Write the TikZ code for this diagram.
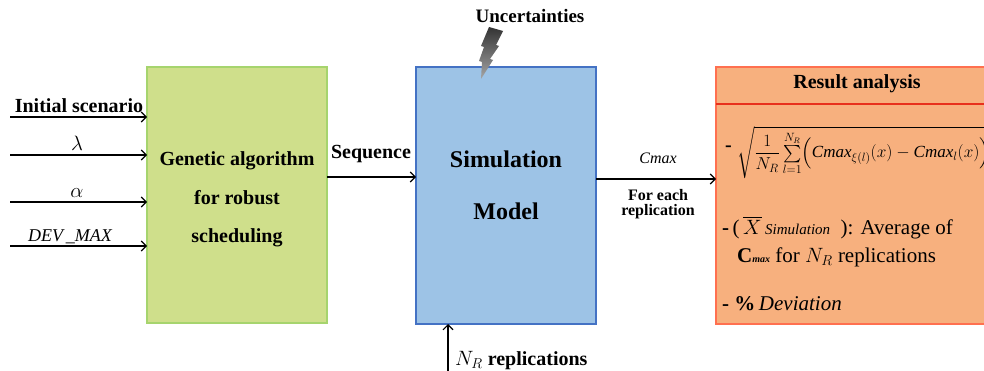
\documentclass[tikz,border=0pt]{standalone}
\usepackage{amsmath}
\usepackage{fontspec}
\setmainfont{Liberation Serif}
\usetikzlibrary{arrows.meta,calc}
\definecolor{gafill}{RGB}{207,223,139}
\definecolor{gaedge}{RGB}{166,212,110}
\definecolor{simfill}{RGB}{157,195,230}
\definecolor{simedge}{RGB}{68,114,196}
\definecolor{resfill}{RGB}{247,176,126}
\definecolor{resedge}{RGB}{255,112,80}
\definecolor{resline}{RGB}{232,48,28}
\begin{document}
\begin{tikzpicture}[x=1pt,y=-1pt,
  conn/.style={draw=black,line width=1.1pt,-{Straight Barb[length=5pt,width=10pt,line width=1.1pt]}},
  blockbox/.style={minimum width=#1,inner sep=0pt,outer sep=0pt},
  bigtxt/.style={font=\fontsize{20}{24}\selectfont\bfseries,inner sep=0pt,anchor=base},
  midtxt/.style={font=\fontsize{16}{18}\selectfont\bfseries,inner sep=0pt,anchor=base},
  restxt/.style={font=\fontsize{21}{24}\selectfont,inner sep=0pt,anchor=base west},
]
\clip (0,0) rectangle (984,371);
\fill[white] (0,0) rectangle (984,371);

% blocks
\node[blockbox=180pt,minimum height=256pt,draw=gaedge,fill=gafill,line width=1.5pt] (ga) at (237,195) {};
\node[blockbox=180pt,minimum height=257pt,draw=simedge,fill=simfill,line width=2.5pt] (sim) at (506,195.5) {};
\node[blockbox=282pt,minimum height=257pt,draw=resedge,fill=resfill,line width=2pt] (res) at (857,195.5) {};
\coordinate (hl) at (716,104);
\draw[resline,line width=2pt] (hl) -- (hl -| res.east);

% block texts
\node[bigtxt] (ga1) at (237,166) {Genetic algorithm};
\node[bigtxt] (ga2) at (237,205) {for robust};
\node[bigtxt] (ga3) at (237,243) {scheduling};
\node[bigtxt,font=\fontsize{24}{28}\selectfont\bfseries] (sim1) at (506,168) {Simulation};
\node[bigtxt,font=\fontsize{24}{28}\selectfont\bfseries] (sim2) at (506,220) {Model};
\node[bigtxt] (rh) at (857,89) {Result analysis};

% inputs
\coordinate (in1) at (10,117);
\coordinate (in2) at (10,155);
\coordinate (in3) at (10,202);
\coordinate (in4) at (10,246);
\draw[conn] (in1) -- (in1 -| ga.west);
\draw[conn] (in2) -- (in2 -| ga.west);
\draw[conn] (in3) -- (in3 -| ga.west);
\draw[conn] (in4) -- (in4 -| ga.west);
\node[bigtxt] (l1) at (79,113) {Initial scenario};
\node[inner sep=0pt,anchor=base,font=\fontsize{20}{24}\selectfont] (l2) at (77,151) {$\lambda$};
\node[inner sep=0pt,anchor=base,font=\fontsize{20}{24}\selectfont] (l3) at (77,198) {$\alpha$};
\node[inner sep=0pt,anchor=base,font=\fontsize{18}{22}\selectfont\itshape] (l4) at (70,241) {DEV\,\_MAX};

% sequence
\coordinate (sq) at (327,177);
\draw[conn] (sq -| ga.east) -- (sq -| sim.west);
\node[bigtxt] (sql) at (371,159) {Sequence};

% cmax
\coordinate (cm) at (596,179);
\draw[conn] (cm -| sim.east) -- (cm -| res.west);
\node[inner sep=0pt,anchor=base,font=\fontsize{16}{18}\selectfont\itshape] (cml) at (658,164) {Cmax};
\node[midtxt] (fe1) at (658,201) {For each};
\node[midtxt] (fe2) at (658,216) {replication};

% uncertainties
\node[bigtxt,font=\fontsize{19}{22}\selectfont\bfseries] (unc) at (530,23) {Uncertainties};
\shade[top color=black!80,bottom color=black!35]
  (489,27) -- (503,31) -- (496,45) -- (499,46) -- (490,59) -- (493,60) -- (481,79)
  -- (482,62) -- (479,61) -- (484,47) -- (481,46) -- cycle;

% replications
\coordinate (nr) at (448,371);
\draw[conn] (nr) -- (nr |- sim.south);
\node[inner sep=0pt,anchor=base west,font=\fontsize{20}{24}\selectfont\bfseries] (nrl) at (455,365) {$N_R$ replications};

% result content
\node[inner sep=0pt,anchor=base west,font=\fontsize{20}{24}\selectfont\bfseries] (d1) at (725,152) {-};
\node[inner sep=0pt,anchor=base west,font=\fontsize{17}{20}\selectfont] (f1) at (737,158)
  {$\sqrt{\dfrac{1}{N_R}\textstyle\sum\limits_{l=1}^{N_R}\Bigl(\mathit{Cmax}_{\xi(l)}(x)-\mathit{Cmax}_{l}(x)\Bigr)^{2}}$};
\node[restxt] (r2) at (722,234) {\textbf{-}\,(\,$\overline{X}$\,{\fontsize{15}{18}\selectfont\itshape Simulation}\enspace): Average of};
\node[restxt] (r3) at (737,262) {\textbf{C}{\fontsize{10}{12}\selectfont\bfseries\itshape max} for $N_R$ replications};
\node[restxt] (r4) at (722,310) {\textbf{- \%}\,\textit{Deviation}};
\end{tikzpicture}
\end{document}
